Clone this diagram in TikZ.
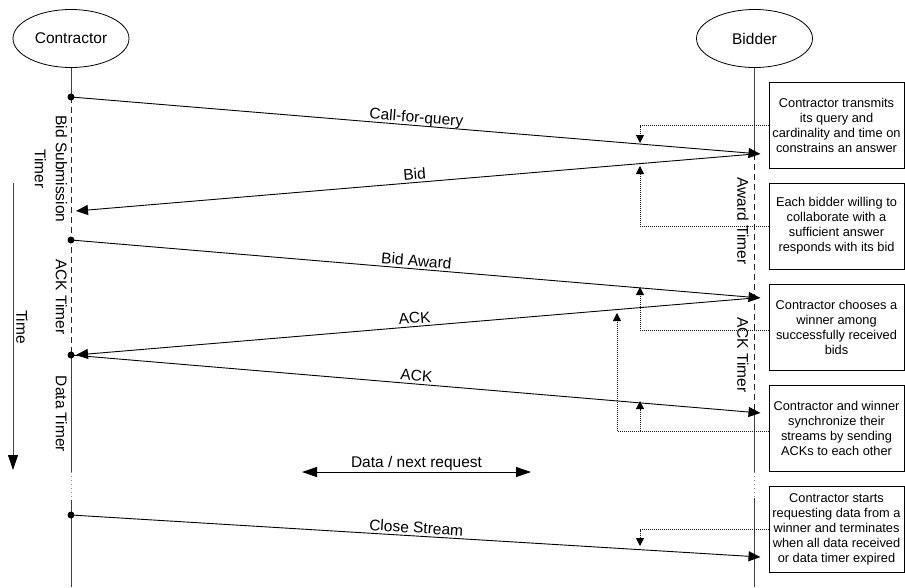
\documentclass[tikz,border=0pt]{standalone}
\usepackage{fontspec}
\setmainfont{Liberation Sans}
\usetikzlibrary{arrows.meta,shapes.geometric}

\begin{document}
\begin{tikzpicture}[x=1pt,y=-1pt,
  actor/.style={draw, line width=0.8pt, ellipse, minimum width=116pt, minimum height=58pt, inner sep=0pt, font=\fontsize{15.5}{18}\selectfont},
  life/.style={draw=black!75, line width=0.9pt},
  timerline/.style={draw=black!85, line width=0.9pt, dash pattern=on 6pt off 4pt},
  gapline/.style={draw=black!45, line width=0.6pt, dash pattern=on 1pt off 3pt},
  msg/.style={draw, line width=0.9pt, -{Triangle[length=12pt,width=10pt]}},
  lbl/.style={sloped, anchor=base, yshift=3pt, font=\fontsize{15.5}{18}\selectfont, inner sep=0pt},
  vlabel/.style={rotate=-90, align=center, font=\fontsize{15.5}{21}\selectfont, inner sep=0pt},
  note/.style={draw, line width=0.8pt, minimum width=135pt, minimum height=86pt, inner sep=0pt, align=center, font=\fontsize{12.8}{15}\selectfont},
  callout/.style={draw=black!90, line width=0.8pt, dash pattern=on 1pt off 1pt, -{Triangle[length=8pt,width=8pt,color=black]}},
  dotmark/.style={circle, fill, inner sep=0pt, minimum size=7pt}
]
\useasboundingbox (0,0) rectangle (905,587);

% actors
\node[actor] (con) at (71,38.5) {Contractor};
\node[actor] (bid) at (754.5,38.5) {Bidder};

% lifeline events
\coordinate (c1) at (71,97);
\coordinate (c2) at (71,211);
\coordinate (c3) at (71,240);
\coordinate (c4) at (71,355);
\coordinate (c5) at (71,515);
\coordinate (cg1) at (71,472);
\coordinate (cg2) at (71,500);
\coordinate (cend) at (71,587);
\coordinate (b1) at (754.5,154);
\coordinate (b2) at (754.5,298);
\coordinate (b3) at (754.5,413);
\coordinate (b4) at (754.5,557);
\coordinate (bg1) at (754.5,472);
\coordinate (bg2) at (754.5,498);
\coordinate (bend) at (754.5,587);

% contractor lifeline
\draw[life] (con.south) -- (c1);
\draw[timerline] (c1) -- (c4);
\draw[life] (c4) -- (cg1);
\draw[gapline] (cg1) -- (cg2);
\draw[life] (cg2) -- (cend);

% bidder lifeline
\draw[life] (bid.south) -- (b1);
\draw[timerline] (b1) -- (b3);
\draw[life] (b3) -- (bg1);
\draw[gapline] (bg1) -- (bg2);
\draw[life] (bg2) -- (bend);

% timer labels
\node[vlabel] (tbs) at (51,169) {Bid Submission\\Timer};
\node[vlabel] (tack) at (61.5,297) {ACK Timer};
\node[vlabel] (tdata) at (61.5,414) {Data Timer};
\node[vlabel] (taward) at (743,221) {Award Timer};
\node[vlabel] (tackb) at (743,355) {ACK Timer};

% time axis
\coordinate (ts) at (13,183);
\coordinate (te) at (13,470);
\draw[draw=black!75, line width=0.9pt, -{Triangle[length=15pt,width=10pt,color=black]}] (ts) -- (te);
\node[vlabel] (ttime) at (22,327) {Time};

% messages
\draw[msg] (c1) -- ([xshift=6pt]b1) node[lbl,pos=0.5] {Call-for-query};
\draw[msg] (b1) -- ([xshift=5pt]c2) node[lbl,pos=0.5] {Bid};
\draw[msg] (c3) -- ([xshift=6pt]b2) node[lbl,pos=0.5] {Bid Award};
\draw[msg] (b2) -- ([xshift=5pt]c4) node[lbl,pos=0.5] {ACK};
\draw[msg] (c4) -- ([xshift=6pt]b3) node[lbl,pos=0.5] {ACK};
\draw[msg] (c5) -- ([xshift=6pt]b4) node[lbl,pos=0.5] {Close Stream};

% data / next request
\coordinate (dl) at (302,472);
\coordinate (dr) at (531,472);
\draw[line width=0.9pt, {Triangle[length=15pt,width=10pt]}-{Triangle[length=15pt,width=10pt]}] (dl) -- (dr)
  node[midway, anchor=base, yshift=5pt, inner sep=0pt, font=\fontsize{15.5}{18}\selectfont] {Data / next request};

% dots
\foreach \p in {c1,c3,c4,c5} \node[dotmark] at (\p) {};

% notes
\node[note] (n1) at (836.5,125.5) {Contractor transmits\\its query and\\cardinality and time on\\constrains an answer};
\node[note] (n2) at (836.5,226) {Each bidder willing to\\collaborate with a\\sufficient answer\\responds with its bid};
\node[note] (n3) at (836.5,327) {Contractor chooses a\\winner among\\successfully received\\bids};
\node[note] (n4) at (836.5,428.5) {Contractor and winner\\synchronize their\\streams by sending\\ACKs to each other};
\node[note] (n5) at (836.5,529.5) {Contractor starts\\requesting data from a\\winner and terminates\\when all data received\\or data timer expired};

% callouts
\coordinate (k1) at (640,143);
\coordinate (k2) at (640,166);
\coordinate (k3) at (640,287);
\coordinate (k4a) at (640,401);
\coordinate (k4b) at (617,313);
\coordinate (k5) at (640,546);
\coordinate (n3w) at ([yshift=-3pt]n3.west);
\coordinate (n4w) at ([yshift=-2.5pt]n4.west);
\draw[callout] (n1.west) -| (k1);
\draw[callout] (n2.west) -| (k2);
\draw[callout] (n3w) -| (k3);
\draw[callout] (n4w) -| (k4b);
\draw[callout] (n4w -| k4a) -- (k4a);
\draw[callout] (n5.west) -| (k5);
\end{tikzpicture}
\end{document}
